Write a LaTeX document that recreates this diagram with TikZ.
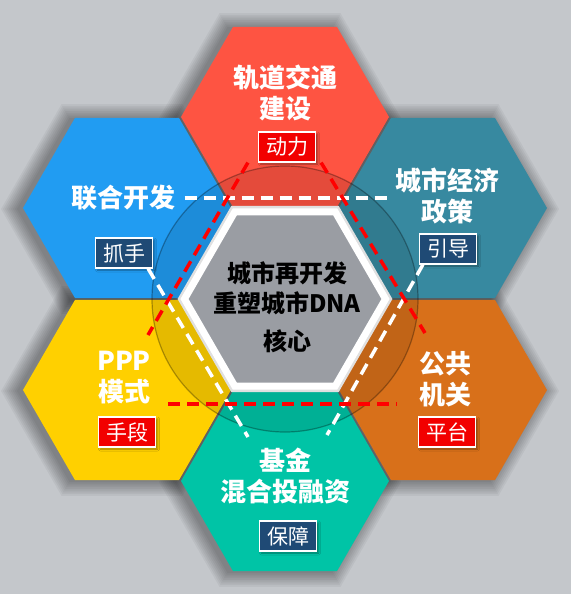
\documentclass[tikz,border=0pt]{standalone}
\usepackage{fontspec}
\setmainfont{Noto Sans CJK SC}
\usetikzlibrary{shapes.geometric,shadows.blur,calc}
\definecolor{Backdrop}{HTML}{C4C7CB}
\definecolor{HexRed}{HTML}{FE5442}
\definecolor{HexBlue}{HTML}{219CF2}
\definecolor{HexTeal}{HTML}{3789A0}
\definecolor{HexOrange}{HTML}{D8701A}
\definecolor{HexYellow}{HTML}{FFD000}
\definecolor{HexGreen}{HTML}{00C4A6}
\definecolor{CoreGray}{HTML}{9A9DA3}
\definecolor{TagRed}{HTML}{F20000}
\definecolor{TagBlue}{HTML}{1F4A75}
\definecolor{DashRed}{HTML}{FF0000}

\begin{document}
\begin{tikzpicture}[x=1pt,y=-1pt,
    hexa/.style={regular polygon,regular polygon sides=6,minimum size=208pt,inner sep=0pt,outer sep=0pt},
    title/.style={text=white,font=\bfseries\fontsize{26}{31}\selectfont,align=center},
    tag/.style={draw=white,line width=1.2pt,text=white,font=\fontsize{21}{21}\selectfont,
      minimum width=57pt,minimum height=30pt,inner sep=0pt,
      blur shadow={shadow xshift=2pt,shadow yshift=-2pt,shadow blur radius=2pt,shadow opacity=40}},
    whitedash/.style={white,line width=3.5pt,dash pattern=on 12pt off 7pt},
    reddash/.style={DashRed,line width=3.5pt,dash pattern=on 12pt off 7pt}]
  \fill[Backdrop] (0,0) rectangle (571,594);
  \useasboundingbox (0,0) rectangle (571,594);
  % soft shadow, then the ring of hexagons
  \foreach \x/\y in {285/117,127/208,443/208,127/390,443/390,285/481}
    {\foreach \r in {105,107,...,121}
      {\fill[black,opacity=.045] (\x,\y) ++(\r-5,1) -- ++(120:\r) -- ++(180:\r) -- ++(240:\r) -- ++(300:\r) -- ++(0:\r) -- cycle;}}
  \foreach \n/\c/\x/\y in {railhex/HexRed/285/117,unitehex/HexBlue/127/208,policyhex/HexTeal/443/208,
      ppphex/HexYellow/127/390,publichex/HexOrange/443/390,fundhex/HexGreen/285/481}
    {\node[hexa,fill=\c] (\n) at (\x,\y) {};}
  % shaded disc and core
  \coordinate (mid) at (285,299);
  \draw[black,draw opacity=.3,fill opacity=.1,fill=black,line width=1.2pt] (mid) circle[radius=133pt];
  \node[hexa,fill=CoreGray,draw=white,line width=7pt,minimum size=201pt,
    preaction={draw=black!12,line width=12pt}] (corehex) at (mid) {};
  \node[font=\bfseries\fontsize{24}{30}\selectfont,align=center] (core) at (287,307) {城市再开发\\重塑城市DNA\\[8pt]核心};
  % titles
  \node[title] (rail) at (285,93) {轨道交通\\建设};
  \node[title] (unite) at (123,198) {联合开发};
  \node[title] (policy) at (447,196) {城市经济\\政策};
  \node[title] (ppp) at (124,378) {PPP\\模式};
  \node[title] (public) at (445,379) {公共\\机关};
  \node[title] (fund) at (285,476) {基金\\混合投融资};
  % tags
  \node[tag,fill=TagRed] (power) at (287,147) {动力};
  \node[tag,fill=TagBlue] (grip) at (124,253) {抓手};
  \node[tag,fill=TagBlue] (guide) at (448,249) {引导};
  \node[tag,fill=TagRed] (means) at (127,432) {手段};
  \node[tag,fill=TagRed] (platform) at (447,432) {平台};
  \node[tag,fill=TagBlue] (secure) at (288,536) {保障};
  % dashed guides
  \coordinate (wl) at (248,437);
  \coordinate (wr) at (327,435);
  \coordinate (rl) at (148,335);
  \coordinate (rr) at (425,333);
  \coordinate (hl) at (168,404);
  \coordinate (hr) at (397,404);
  \draw[whitedash] ([xshift=6pt]unite.east) -- ([xshift=-3pt]unite.east -| policy.west);
  \draw[whitedash] ([xshift=-5pt]grip.south east) -- (wl);
  \draw[whitedash] ([xshift=4pt]guide.south west) -- (wr);
  \draw[reddash] ([xshift=-10pt]power.south west) -- (rl);
  \draw[reddash] ([xshift=5pt]power.south east) -- (rr);
  \draw[reddash] (hl) -- (hr);
\end{tikzpicture}
\end{document}
